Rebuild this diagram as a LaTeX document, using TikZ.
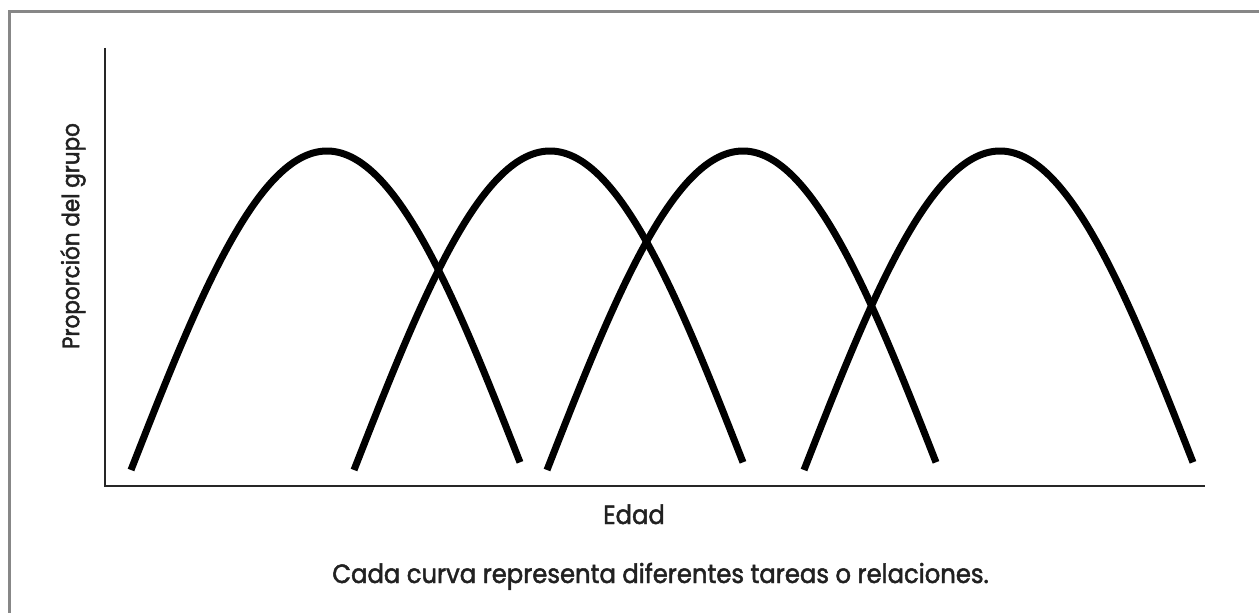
\documentclass[tikz,border=0pt]{standalone}
\usepackage{fontspec}
\setmainfont{Poppins}[FakeBold=1.8,FakeStretch=0.92]
\newfontfamily\ylabfont{Poppins}[FakeBold=1.8,FakeStretch=0.9]
\begin{document}
\begin{tikzpicture}[x=1bp,y=-1bp,
  frameline/.style={draw=black!47,line width=2.7bp},
  axisline/.style={draw=black!85,line width=1.5bp},
  curveline/.style={draw=black,line width=7bp,line cap=butt,line join=round},
  lbl/.style={text=black!87,inner sep=0pt,font=\fontsize{26.5}{30}\selectfont}]
\useasboundingbox (0,0) rectangle (1259,613);
\clip (0,0) rectangle (1259,613);
\fill[white] (0,0) rectangle (1259,613);
% frame
\coordinate (fbl) at (9.5,640);
\coordinate (ftl) at (9.5,11.5);
\coordinate (ftr) at (1290,11.5);
\draw[frameline] (fbl) -- (ftl) -- (ftr);
% axes
\coordinate (ytop) at (105,48);
\coordinate (orig) at (105,486);
\coordinate (xend) at (1205,486);
\draw[axisline] (ytop) -- (orig) -- (xend);
% curves
\foreach \p in {327,550,743,1000}{
  \draw[curveline] plot[domain=-196:193,samples=160]
    ({\p+\x},{470-319*cos(0.45918*\x)});
}
% labels
\node[lbl,rotate=90,font=\ylabfont\fontsize{24}{28}\selectfont] (ylab) at (73,236) {Proporción del grupo};
\node[lbl,anchor=base] (xlab) at (634,524) {Edad};
\node[lbl,anchor=base] (cap) at (660.5,583) {Cada curva representa diferentes tareas o relaciones.};
\end{tikzpicture}
\end{document}
